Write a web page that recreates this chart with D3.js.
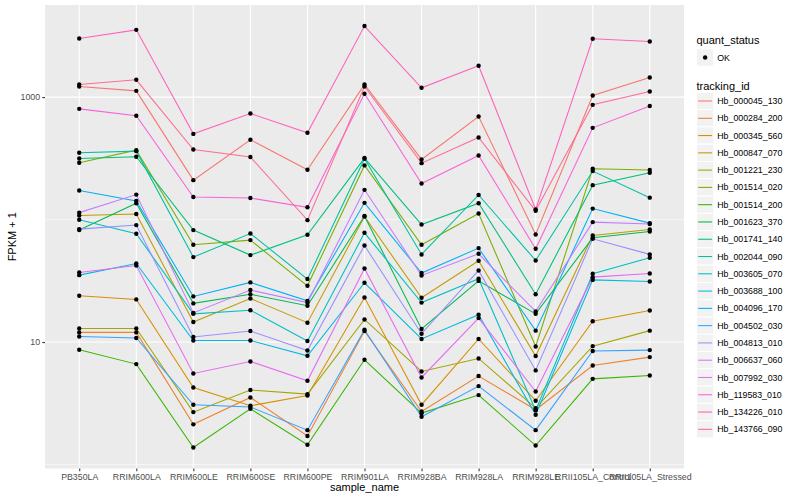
<!DOCTYPE html>
<html><head><meta charset="utf-8">
<script src="https://cdn.jsdelivr.net/npm/d3@7"></script>
<style>body{margin:0;background:#fff}svg{display:block;font-family:"Liberation Sans",Arial,Helvetica,sans-serif}</style>
</head><body><svg id="c" width="800" height="500"></svg>
<script>
const sampleNames = ["PB350LA","RRIM600LA","RRIM600LE","RRIM600SE","RRIM600PE","RRIM901LA","RRIM928BA","RRIM928LA","RRIM928LE","RRII105LA_Control","RRII105LA_Stressed"];
const trackingIds = ["Hb_000045_130","Hb_000284_200","Hb_000345_560","Hb_000847_070","Hb_001221_230","Hb_001514_020","Hb_001514_200","Hb_001623_370","Hb_001741_140","Hb_002044_090","Hb_003605_070","Hb_003688_100","Hb_004096_170","Hb_004502_030","Hb_004813_010","Hb_006637_060","Hb_007992_030","Hb_119583_010","Hb_134226_010","Hb_143766_090"];
const seriesColors = ["#F8766D","#EA8331","#D89000","#C09B00","#A3A500","#7CAE00","#39B600","#00BB4E","#00BF7D","#00C1A3","#00BFC4","#00BAE0","#00B0F6","#35A2FF","#9590FF","#C77CFF","#E76BF3","#FA62DB","#FF62BC","#FF6C91"];
const quantStatus = ["OK"];
const yTickValues = [10, 1000];
const yMinorValues = [1, 100];

// FPKM + 1 per sample, in sampleNames order
const Hb_000045_130 = [1221, 1125, 210, 448, 255, 1268, 310, 695, 75.5, 1031, 1445];
const Hb_000284_200 = [12.0, 12.0, 2.13, 3.53, 1.71, 12.3, 2.71, 5.28, 2.80, 6.44, 7.54];
const Hb_000345_560 = [23.9, 22.3, 4.26, 3.02, 3.66, 23.1, 3.08, 10.6, 3.32, 14.8, 18.1];
const Hb_000847_070 = [108, 111, 14.6, 22.7, 14.4, 106, 23.0, 46.1, 7.69, 74.2, 83.0];
const Hb_001221_230 = [12.9, 12.9, 2.68, 4.06, 3.76, 15.3, 5.75, 7.35, 2.89, 9.27, 12.4];
const Hb_001514_020 = [291, 369, 62.3, 68.0, 28.8, 277, 62.3, 112, 9.2, 260, 254];
const Hb_001514_200 = [8.65, 6.61, 1.38, 2.85, 1.45, 7.17, 2.63, 3.69, 1.43, 5.01, 5.34];
const Hb_001623_370 = [82.1, 136, 20.7, 24.6, 19.8, 107, 12.8, 31.6, 17.0, 71.0, 80.0];
const Hb_001741_140 = [315, 326, 82.1, 51.3, 75.2, 318, 91.2, 136, 24.6, 191, 241];
const Hb_002044_090 = [351, 362, 49.4, 77.0, 32.7, 314, 51.9, 159, 46.4, 249, 151];
const Hb_003605_070 = [99.6, 76.6, 17.0, 18.2, 10.2, 78.0, 21.0, 32.9, 2.77, 36.1, 48.8];
const Hb_003688_100 = [35.2, 43.8, 10.3, 10.3, 7.73, 30.5, 10.6, 16.7, 2.55, 32.2, 31.2];
const Hb_004096_170 = [173, 142, 23.6, 30.7, 21.7, 137, 36.6, 58.5, 12.4, 123, 93.6];
const Hb_004502_030 = [11.1, 10.8, 3.08, 2.95, 1.91, 12.6, 2.46, 4.37, 1.91, 8.45, 8.60];
const Hb_004813_010 = [83.6, 90.2, 11.0, 12.3, 8.54, 61.5, 11.7, 38.4, 5.87, 69.7, 52.0];
const Hb_006637_060 = [114, 160, 17.3, 26.6, 21.0, 175, 35.0, 52.6, 17.8, 95.4, 91.9];
const Hb_007992_030 = [37.0, 42.2, 5.54, 6.95, 4.83, 39.9, 5.14, 15.7, 3.95, 33.9, 36.3];
const Hb_119583_010 = [802, 704, 153, 150, 126, 1064, 197, 334, 57.8, 561, 845];
const Hb_134226_010 = [3006, 3540, 501, 735, 511, 3802, 1191, 1803, 121, 2992, 2844];
const Hb_143766_090 = [1268, 1384, 373, 324, 99, 1221, 289, 468, 118, 865, 1111];

const seriesValues = [Hb_000045_130,Hb_000284_200,Hb_000345_560,Hb_000847_070,Hb_001221_230,Hb_001514_020,Hb_001514_200,Hb_001623_370,Hb_001741_140,Hb_002044_090,Hb_003605_070,Hb_003688_100,Hb_004096_170,Hb_004502_030,Hb_004813_010,Hb_006637_060,Hb_007992_030,Hb_119583_010,Hb_134226_010,Hb_143766_090];

const series = trackingIds.map((id,i)=>({id, color:seriesColors[i], pts: sampleNames.map((s,j)=>({s, v:seriesValues[i][j]}))}));

const svg = d3.select("#c");
const P = {l:45, r:684, t:5, b:468.5};

const allV = seriesValues.flat();
const lmin = Math.log10(d3.min(allV)), lmax = Math.log10(d3.max(allV));
const pad = (lmax-lmin)*0.05;
const y = d3.scaleLog().domain([10**(lmin-pad), 10**(lmax+pad)]).range([P.b, P.t]);
const x = d3.scalePoint().domain(sampleNames).range([P.l, P.r]).padding(0.6);

// panel
svg.append("rect").attr("x",P.l).attr("y",P.t).attr("width",P.r-P.l).attr("height",P.b-P.t).attr("fill","#EBEBEB");
const g = svg.append("g");
yMinorValues.forEach(v=>g.append("line").attr("x1",P.l).attr("x2",P.r).attr("y1",y(v)).attr("y2",y(v)).attr("stroke","#fff").attr("stroke-width",0.55));
yTickValues.forEach(v=>g.append("line").attr("x1",P.l).attr("x2",P.r).attr("y1",y(v)).attr("y2",y(v)).attr("stroke","#fff").attr("stroke-width",1.07));
sampleNames.forEach(s=>g.append("line").attr("x1",x(s)).attr("x2",x(s)).attr("y1",P.t).attr("y2",P.b).attr("stroke","#fff").attr("stroke-width",1.07));

// lines
const line = d3.line().x(d=>x(d.s)).y(d=>y(d.v));
svg.append("g").selectAll("path").data(series).join("path")
  .attr("d",d=>line(d.pts)).attr("fill","none").attr("stroke",d=>d.color).attr("stroke-width",1.07);
// points
svg.append("g").selectAll("circle").data(series.flatMap(d=>d.pts)).join("circle")
  .attr("cx",d=>x(d.s)).attr("cy",d=>y(d.v)).attr("r",2.2).attr("fill","#000");

// axes
const xa = svg.append("g").attr("transform",`translate(0,${P.b})`).call(d3.axisBottom(x).tickSize(2.75).tickPadding(2.2));
const ya = svg.append("g").attr("transform",`translate(${P.l},0)`).call(d3.axisLeft(y).tickValues(yTickValues).tickFormat(d3.format("d")).tickSize(2.75).tickPadding(2.2));
[xa,ya].forEach(a=>{a.select(".domain").remove();a.selectAll(".tick line").attr("stroke","#333").attr("stroke-width",1.07);
  a.selectAll(".tick text").attr("fill","#4D4D4D").style("font-size","8.8px").style("font-family","Liberation Sans, Arial, sans-serif");});

svg.append("text").attr("x",(P.l+P.r)/2).attr("y",491).attr("text-anchor","middle").style("font-size","11px").text("sample_name");
svg.append("text").attr("transform",`translate(16,${(P.t+P.b)/2}) rotate(-90)`).attr("text-anchor","middle").style("font-size","11px").text("FPKM + 1");

// legends
const LX = 696.5, KS = 17.28;
svg.append("text").attr("x",LX).attr("y",44).style("font-size","11px").text("quant_status");
const qk = svg.append("g");
quantStatus.forEach((q,i)=>{
  const cy = 57.5 + i*KS;
  qk.append("rect").attr("x",LX).attr("y",cy-KS/2).attr("width",KS).attr("height",KS).attr("fill","#F2F2F2").attr("stroke","#fff");
  qk.append("circle").attr("cx",LX+KS/2).attr("cy",cy).attr("r",2.2).attr("fill","#000");
  qk.append("text").attr("x",LX+KS+3.5).attr("y",cy).attr("dy","0.35em").style("font-size","8.8px").text(q);
});
svg.append("text").attr("x",LX).attr("y",90).style("font-size","11px").text("tracking_id");
const lk = svg.append("g").selectAll("g").data(series).join("g").attr("transform",(d,i)=>`translate(${LX},${101+i*KS})`);
lk.append("rect").attr("x",0).attr("y",-KS/2).attr("width",KS).attr("height",KS).attr("fill","#F2F2F2").attr("stroke","#fff");
lk.append("line").attr("x1",1.7).attr("x2",KS-1.7).attr("y1",0).attr("y2",0).attr("stroke",d=>d.color).attr("stroke-width",1.07);
lk.append("text").attr("x",KS+3.5).attr("y",0).attr("dy","0.35em").style("font-size","8.8px").text(d=>d.id);
</script></body></html>
